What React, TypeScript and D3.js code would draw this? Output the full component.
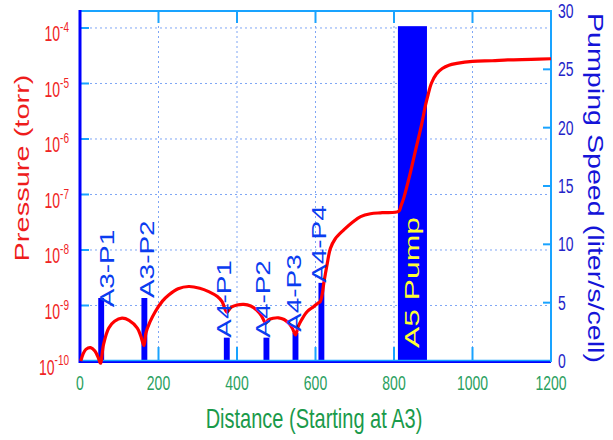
import React, { useEffect, useRef } from "react";
import * as d3 from "d3";

// pressure profile along the beamline (distance, torr)
const distance = [
  2, 8, 15, 27, 38, 46, 52, 60, 73, 88, 107, 125, 146, 155, 163, 168, 178, 192,
  210, 226, 250, 277, 305, 328, 350, 362, 374, 385, 400, 417, 435, 450, 462,
  473, 480, 492, 506, 520, 532, 541, 549, 556, 565, 579, 595, 606, 612, 617,
  621, 626, 630, 638, 650, 672, 695, 715, 740, 770, 812, 818, 825, 840, 855,
  870, 880, 887, 895, 908, 923, 940, 960, 1000, 1050, 1090, 1150, 1200,
];
const pressure = [
  1.0e-10, 1.35e-10, 1.62e-10, 1.74e-10, 1.51e-10, 1.17e-10, 9.1e-11, 2.0e-10,
  3.9e-10, 5.2e-10, 5.9e-10, 5.4e-10, 3.9e-10, 2.8e-10, 1.9e-10, 3.2e-10,
  5.0e-10, 7.8e-10, 1.2e-9, 1.55e-9, 2.0e-9, 2.2e-9, 2.05e-9, 1.78e-9,
  1.45e-9, 1.17e-9, 7.6e-10, 9.3e-10, 1.02e-9, 1.05e-9, 9.8e-10, 8.3e-10,
  6.6e-10, 4.8e-10, 5.5e-10, 5.9e-10, 6.0e-10, 5.6e-10, 4.8e-10, 3.9e-10,
  2.95e-10, 4.2e-10, 5.6e-10, 7.8e-10, 9.5e-10, 1.1e-9, 1.17e-9, 1.58e-9,
  2.5e-9, 4.0e-9, 5.75e-9, 1.07e-8, 1.58e-8, 2.3e-8, 3.2e-8, 4.0e-8, 4.5e-8,
  4.7e-8, 5.0e-8, 6.3e-8, 8.7e-8, 2.2e-7, 6.3e-7, 1.78e-6, 4.0e-6, 6.3e-6,
  1.0e-5, 1.48e-5, 1.86e-5, 2.14e-5, 2.3e-5, 2.5e-5, 2.57e-5, 2.66e-5,
  2.72e-5, 2.79e-5,
];

// small ion pumps
const pumpNames = ["A3-P1", "A3-P2", "A4-P1", "A4-P2", "A4-P3", "A4-P4"];
const pumpPos = [54, 164, 374, 475, 549, 615];
const pumpSpeed = [5.4, 5.4, 2.0, 2.0, 2.4, 6.7];
const labelPos = [67, 169, 366, 466, 544, 608];
const labelSpeed = [4.6, 5.4, 2.0, 2.0, 2.5, 6.7];
const pumpWidth = 15;

// big A5 pump
const bigPumpName = "A5 Pump";
const bigPumpRange = [810, 884];
const bigPumpSpeed = 28.7;

const xTicks = [0, 200, 400, 600, 800, 1000, 1200];
const pressureTicks = [1e-10, 1e-9, 1e-8, 1e-7, 1e-6, 1e-5, 1e-4];
const speedTicks = [0, 5, 10, 15, 20, 25, 30];

const FONT = "'Liberation Sans', Arial, sans-serif";
const AXIS_LIGHT = "#19a3ff";
const GRID = "#7fa6f5";

const App = () => {
  const svgRef = useRef<SVGSVGElement>(null);

  useEffect(() => {
    const svg = d3.select(svgRef.current);
    svg.selectAll("*").remove();

    const width = 613;
    const height = 440;
    const left = 80;
    const right = 551;
    const top = 11;
    const bottom = 361;

    svg.append("rect").attr("width", width).attr("height", height).attr("fill", "#fff");

    const x = d3.scaleLinear().domain([0, 1200]).range([left, right]);
    const yP = d3.scaleLog().domain([1e-10, Math.pow(10, -3.694)]).range([bottom, top]);
    const yS = d3.scaleLinear().domain([0, 30]).range([bottom, top]);

    // dotted grid
    const grid = svg.append("g").attr("stroke", GRID).attr("stroke-width", 1).attr("stroke-dasharray", "2,3");
    xTicks.slice(1, -1).forEach((t) => {
      grid.append("line").attr("x1", x(t)).attr("x2", x(t)).attr("y1", top).attr("y2", bottom);
    });
    pressureTicks.slice(1).forEach((t) => {
      grid.append("line").attr("x1", left).attr("x2", right).attr("y1", yP(t)).attr("y2", yP(t));
    });

    // pump bars
    pumpPos.forEach((p, i) => {
      svg
        .append("rect")
        .attr("x", x(p - pumpWidth / 2))
        .attr("width", x(pumpWidth) - x(0))
        .attr("y", yS(pumpSpeed[i]))
        .attr("height", bottom - yS(pumpSpeed[i]))
        .attr("fill", "#0000ff");
    });
    svg
      .append("rect")
      .attr("x", x(bigPumpRange[0]))
      .attr("width", x(bigPumpRange[1]) - x(bigPumpRange[0]))
      .attr("y", yS(bigPumpSpeed))
      .attr("height", bottom - yS(bigPumpSpeed))
      .attr("fill", "#0000ff");

    // axes frame
    svg.append("line").attr("x1", left).attr("x2", right).attr("y1", bottom + 0.5).attr("y2", bottom + 0.5)
      .attr("stroke", "#0000ff").attr("stroke-width", 3);
    svg.append("line").attr("x1", left).attr("x2", right).attr("y1", bottom - 0.5).attr("y2", bottom - 0.5)
      .attr("stroke", AXIS_LIGHT).attr("stroke-width", 1.5);
    svg.append("line").attr("x1", left).attr("x2", right + 1).attr("y1", top).attr("y2", top)
      .attr("stroke", AXIS_LIGHT).attr("stroke-width", 2);
    svg.append("line").attr("x1", right).attr("x2", right).attr("y1", top).attr("y2", bottom + 1)
      .attr("stroke", AXIS_LIGHT).attr("stroke-width", 2);

    // ticks
    const ticks = svg.append("g").attr("stroke", AXIS_LIGHT).attr("stroke-width", 2);
    xTicks.slice(1, -1).forEach((t) => {
      ticks.append("line").attr("x1", x(t)).attr("x2", x(t)).attr("y1", bottom).attr("y2", bottom - 14);
      ticks.append("line").attr("x1", x(t)).attr("x2", x(t)).attr("y1", top).attr("y2", top + 12);
    });
    pressureTicks.slice(1).forEach((t) => {
      ticks.append("line").attr("x1", left).attr("x2", left + 9).attr("y1", yP(t)).attr("y2", yP(t));
    });
    speedTicks.slice(1, -1).forEach((t) => {
      ticks.append("line").attr("x1", right - 8).attr("x2", right).attr("y1", yS(t)).attr("y2", yS(t));
    });

    svg.append("line").attr("x1", left).attr("x2", left).attr("y1", top - 1).attr("y2", bottom + 2)
      .attr("stroke", "#0000ff").attr("stroke-width", 3);

    // pressure curve
    const line = d3
      .line<number>()
      .x((d, i) => x(distance[i]))
      .y((d) => yP(d))
      .curve(d3.curveCatmullRom.alpha(0.5));
    svg
      .append("path")
      .datum(pressure)
      .attr("fill", "none")
      .attr("stroke", "#ff0000")
      .attr("stroke-width", 3.2)
      .attr("stroke-linejoin", "round")
      .attr("d", line);

    // pump labels
    pumpNames.forEach((name, i) => {
      svg
        .append("text")
        .attr("transform", `translate(${x(labelPos[i]) + 7.5},${yS(labelSpeed[i])}) rotate(-90) scale(1.33,1)`)
        .attr("font-family", FONT)
        .attr("font-size", 21)
        .attr("fill", "#0a3cf0")
        .text(name);
    });
    svg
      .append("text")
      .attr("transform", `translate(${x((bigPumpRange[0] + bigPumpRange[1]) / 2) + 7},${(yS(0) + yS(bigPumpSpeed)) / 2 + 89}) rotate(-90)`)
      .attr("font-family", FONT)
      .attr("font-size", 21)
      .attr("fill", "#ffff33")
      .attr("text-anchor", "middle")
      .attr("textLength", 131)
      .attr("lengthAdjust", "spacingAndGlyphs")
      .text(bigPumpName);

    // x tick labels
    xTicks.forEach((t) => {
      svg
        .append("text")
        .attr("transform", `translate(${x(t)},390) scale(1,1.45)`)
        .attr("font-family", FONT)
        .attr("font-size", 14)
        .attr("fill", "#2aa060")
        .attr("text-anchor", "middle")
        .text(t);
    });

    // left (pressure) tick labels
    pressureTicks.forEach((t) => {
      const exp = Math.round(Math.log10(t));
      const txt = svg
        .append("text")
        .attr("transform", `translate(69,${yP(t) + 13.5}) scale(1,1.55)`)
        .attr("font-family", FONT)
        .attr("font-size", 14)
        .attr("fill", "#f02424")
        .attr("text-anchor", "end");
      txt.append("tspan").text("10");
      txt.append("tspan").attr("dy", -6).attr("font-size", 10).text(`-${-exp}`);
    });

    // right (speed) tick labels
    speedTicks.forEach((t) => {
      svg
        .append("text")
        .attr("transform", `translate(558,${yS(t) + 7}) scale(1,1.5)`)
        .attr("font-family", FONT)
        .attr("font-size", 14)
        .attr("fill", "#2424c8")
        .text(t);
    });

    // axis titles
    svg
      .append("text")
      .attr("transform", "translate(314,428) scale(1,1.35)")
      .attr("font-family", FONT)
      .attr("font-size", 20)
      .attr("fill", "#1a9a4a")
      .attr("text-anchor", "middle")
      .text("Distance (Starting at A3)");
    svg
      .append("text")
      .attr("transform", "translate(29,168) rotate(-90)")
      .attr("font-family", FONT)
      .attr("font-size", 20)
      .attr("fill", "#ee1c1c")
      .attr("text-anchor", "middle")
      .attr("textLength", 187)
      .attr("lengthAdjust", "spacingAndGlyphs")
      .text("Pressure (torr)");
    svg
      .append("text")
      .attr("transform", "translate(588,188) rotate(90)")
      .attr("font-family", FONT)
      .attr("font-size", 22)
      .attr("fill", "#1414d8")
      .attr("text-anchor", "middle")
      .attr("textLength", 350)
      .attr("lengthAdjust", "spacingAndGlyphs")
      .text("Pumping Speed (liter/s/cell)");
  }, []);

  return (
    <svg
      ref={svgRef}
      width={613}
      height={440}
      style={{ position: "absolute", left: 0, top: 0, display: "block" }}
    />
  );
};

export default App;
